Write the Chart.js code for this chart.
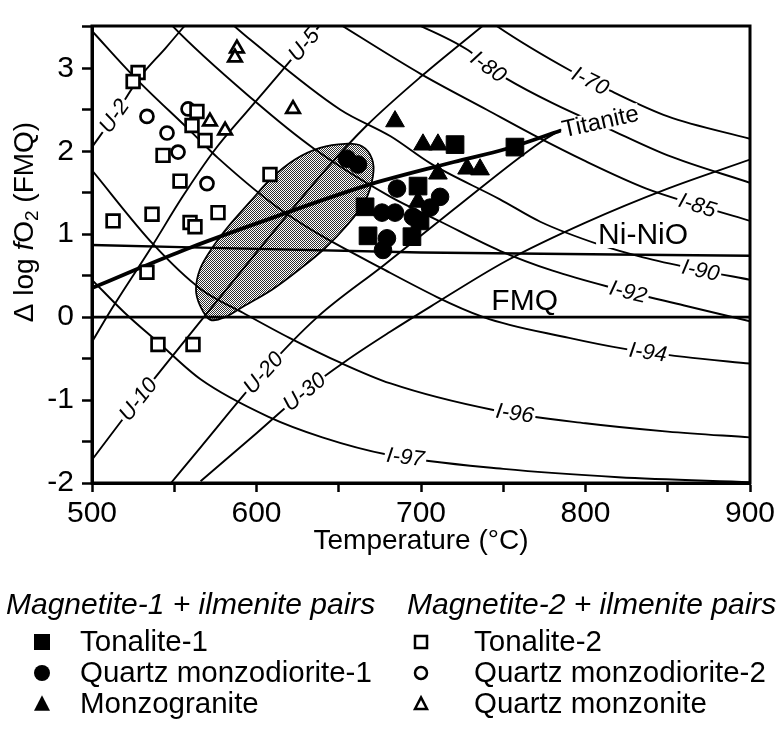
<!DOCTYPE html>
<html>
<head>
<meta charset="utf-8">
<script src="https://cdn.jsdelivr.net/npm/chart.js@4.4.0/dist/chart.umd.min.js"></script>
<style>
  html, body { margin: 0; padding: 0; background: #fff; }
  #wrap { width: 780px; height: 733px; }
</style>
</head>
<body>
<div id="wrap"><canvas id="fig"></canvas></div>
<script>
// temperature (°C) vs delta log fO2 relative to FMQ
var tempRange = [500, 900];
var dlogRange = [-2, 3.51];

// sample pairs: [T, dlogfO2]
var tonalite1 = [[720.7,2.08],[757.1,2.05],[698.2,1.58],[666,1.33],[667.8,0.98],[694.5,0.97],[699.4,1.16]];
var qmd1 = [[655,1.91],[661.7,1.84],[685.4,1.55],[711.6,1.45],[676.3,1.26],[684.2,1.26],[705.5,1.32],[695.1,1.21],[679.3,0.95],[676.9,0.81]];
var monzogranite = [[684.2,2.36],[701.2,2.08],[710.3,2.08],[710.3,1.73],[728,1.79],[735.9,1.78],[698.2,1.39]];
var tonalite2 = [[528,2.95],[525,2.84],[563.8,2.48],[560.8,2.31],[568.7,2.13],[543.2,1.95],[553.5,1.64],[536.5,1.24],[512.8,1.16],[559.6,1.14],[562.6,1.09],[576.6,1.26],[608.2,1.72],[533.4,0.54],[540.1,-0.33],[561.4,-0.33]];
var qmd2 = [[533.4,2.42],[545.6,2.22],[552.3,1.99],[558.4,2.51],[569.9,1.61]];
var qzMonzonite = [[588.1,3.24],[586.9,3.13],[622.2,2.51],[571.7,2.36],[580.9,2.25]];

var seriesNames = ['Tonalite-1', 'Quartz monzodiorite-1', 'Monzogranite', 'Tonalite-2', 'Quartz monzodiorite-2', 'Quartz monzonite'];
var pairGroups = ['Magnetite-1 + ilmenite pairs', 'Magnetite-2 + ilmenite pairs'];

// ulvospinel isopleths
var u2 = [[500,2.05],[515,2.47],[529,2.89],[545,3.25],[560,3.6]];
var u5 = [[500,-0.3],[512,0.1],[536,0.84],[555,1.45],[574,2.0],[596,2.52],[615,2.96],[642,3.6]];
var u10 = [[500,-1.72],[528,-0.99],[568,0],[605,0.9],[643,1.8],[667,2.31],[700,2.9],[743,3.6]];
var u20 = [[548,-2.0],[566,-1.57],[604,-0.67],[637,0],[677,0.62],[720,1.3],[772,2.1],[786,2.27]];
var u30 = [[566,-1.98],[600,-1.4],[629,-0.9],[655,-0.52],[681,-0.18],[706,0.13],[752,0.68],[800,1.14],[850,1.55],[900,1.9]];
// ilmenite isopleths
var i70 = [[740,3.6],[746,3.51],[791,2.97],[815,2.73],[850,2.42],[900,2.15]];
var i80 = [[690,3.6],[728.5,3.22],[741,3.02],[752.5,2.87],[780,2.58],[813,2.28],[850,1.95],[900,1.62]];
var i85 = [[645,3.6],[700,2.93],[740,2.5],[768,2.2],[800,1.88],[837,1.55],[868,1.35],[900,1.16]];
var i90 = [[580,3.62],[596.5,3.34],[651,2.5],[681.5,2.18],[706,1.85],[748,1.42],[772.5,1.15],[809,0.87],[835,0.72],[869,0.57],[900,0.45]];
var i92 = [[545,3.6],[548,3.53],[598,2.62],[635,2.03],[681.5,1.45],[712,1.15],[748,0.8],[780,0.56],[815,0.36],[860,0.14],[900,-0.05]];
var i94 = [[500,3.45],[525.5,2.9],[560,2.24],[576.5,1.92],[616.5,1.27],[675,0.6],[738,0],[790,-0.25],[823,-0.38],[860,-0.48],[900,-0.56]];
var i96 = [[500,1.77],[537.6,0.87],[566,0.34],[592,0.05],[620,-0.25],[651,-0.55],[681.5,-0.8],[744,-1.12],[800,-1.28],[850,-1.38],[900,-1.45]];
var i97 = [[500,0.45],[520,0.05],[540,-0.3],[566,-0.75],[607,-1.2],[640,-1.45],[680,-1.66],[750,-1.83],[820,-1.93],[900,-1.99]];
// buffers and titanite reaction
var nno = [[500,0.87],[700,0.78],[900,0.74]];
var fmq = [[500,0],[900,0]];
var titanite = [[500,0.35],[530,0.6],[560,0.84],[610,1.2],[669,1.6],[720,1.87],[752,2.03],[785,2.25]];
// shaded field outline
var field = [[571.7,-0.03],[565.7,0.14],[563.2,0.33],[565.7,0.58],[572.9,0.83],[582.7,1.09],[596,1.39],[609.4,1.68],[623.4,1.9],[638.6,2.04],[653.8,2.09],[664.1,2.06],[670.2,1.91],[670.8,1.7],[666,1.4],[655.6,1.12],[641.6,0.83],[626.4,0.58],[609.4,0.33],[593,0.14],[580.9,0]];

var isoNames = ['U-2','U-5','U-10','U-20','U-30','I-70','I-80','I-85','I-90','I-92','I-94','I-96','I-97'];
var isoLines = [u2, u5, u10, u20, u30, i70, i80, i85, i90, i92, i94, i96, i97];
// where along each isopleth its label sits (T)
var isoLabelAt = [513.4, 628.7, 528, 604, 629, 803, 741, 868, 870, 826, 838, 757, 690.6];

var FONT = "'Liberation Sans', Arial, Helvetica, sans-serif";

function xy(p) { return { x: p[0], y: p[1] }; }

function pointSet(name, pts, style, filled, r) {
  return {
    label: name, data: pts.map(xy), pointStyle: style, pointRadius: r,
    backgroundColor: filled ? '#000' : '#fff', borderColor: '#000',
    borderWidth: filled ? 1 : 2.7, showLine: false, _filled: filled
  };
}
function lineSet(pts, w) {
  return {
    data: pts.map(xy), showLine: true, pointRadius: 0, borderColor: '#000',
    borderWidth: w, fill: false, cubicInterpolationMode: 'monotone'
  };
}

var datasets = [
  pointSet(seriesNames[0], tonalite1, 'rect', true, 12.5),
  pointSet(seriesNames[1], qmd1, 'circle', true, 8.8),
  pointSet(seriesNames[2], monzogranite, 'triangle', true, 10.8),
  pointSet(seriesNames[3], tonalite2, 'rect', false, 9),
  pointSet(seriesNames[4], qmd2, 'circle', false, 6.5),
  pointSet(seriesNames[5], qzMonzonite, 'triangle', false, 7.8)
];
var FIRST_LINE = datasets.length;
isoLines.forEach(function (l) { datasets.push(lineSet(l, 1.9)); });
datasets.push(lineSet(nno, 2.4));
datasets.push(lineSet(fmq, 2.8));
datasets.push(lineSet(titanite, 3.8));

function interp(pts, t) {
  for (var i = 0; i < pts.length - 1; i++) {
    var a = pts[i], b = pts[i + 1];
    if (t >= a[0] && t <= b[0]) return a[1] + (t - a[0]) / (b[0] - a[0]) * (b[1] - a[1]);
  }
  return pts[pts.length - 1][1];
}

function boxText(ctx, x, y, ang, text, font, pad, h) {
  ctx.save();
  ctx.translate(x, y);
  ctx.rotate(ang);
  ctx.font = font;
  var w = ctx.measureText(text).width;
  if (pad !== null) {
    ctx.fillStyle = '#fff';
    ctx.fillRect(-w / 2 - pad, -h / 2, w + 2 * pad, h);
  }
  ctx.fillStyle = '#000';
  ctx.textAlign = 'center';
  ctx.textBaseline = 'middle';
  ctx.fillText(text, 0, 1);
  ctx.restore();
}

function stipple(ctx) {
  var c = document.createElement('canvas');
  c.width = 2; c.height = 2;
  var g = c.getContext('2d');
  g.fillStyle = '#fff'; g.fillRect(0, 0, 2, 2);
  g.fillStyle = '#2e2e2e'; g.fillRect(0, 0, 1, 1); g.fillRect(1, 1, 1, 1);
  return ctx.createPattern(c, 'repeat');
}

function marker(ctx, style, filled, x, y, s) {
  ctx.beginPath();
  if (style === 'rect') ctx.rect(x - s / 2, y - s / 2, s, s);
  else if (style === 'circle') ctx.arc(x, y, s / 2, 0, Math.PI * 2);
  else { ctx.moveTo(x, y - s * 0.55); ctx.lineTo(x + s / 2, y + s * 0.42); ctx.lineTo(x - s / 2, y + s * 0.42); ctx.closePath(); }
  if (filled) { ctx.fillStyle = '#000'; ctx.fill(); }
  else { ctx.fillStyle = '#fff'; ctx.fill(); ctx.lineWidth = 2.5; ctx.strokeStyle = '#000'; ctx.stroke(); }
}

var figurePlugin = {
  id: 'figure',
  beforeDatasetsDraw: function (chart) {
    var ctx = chart.ctx, xs = chart.scales.x, ys = chart.scales.y;
    var p = field.map(function (q) { return [xs.getPixelForValue(q[0]), ys.getPixelForValue(q[1])]; });
    var n = p.length;
    ctx.save();
    ctx.beginPath();
    ctx.moveTo(p[0][0], p[0][1]);
    for (var i = 0; i < n; i++) {
      var p0 = p[(i - 1 + n) % n], p1 = p[i], p2 = p[(i + 1) % n], p3 = p[(i + 2) % n];
      ctx.bezierCurveTo(p1[0] + (p2[0] - p0[0]) / 6, p1[1] + (p2[1] - p0[1]) / 6,
                        p2[0] - (p3[0] - p1[0]) / 6, p2[1] - (p3[1] - p1[1]) / 6, p2[0], p2[1]);
    }
    ctx.closePath();
    ctx.fillStyle = stipple(ctx);
    ctx.fill();
    ctx.lineWidth = 1.8;
    ctx.strokeStyle = '#000';
    ctx.stroke();
    ctx.restore();
  },
  afterDatasetDraw: function (chart, args) {
    if (args.index !== FIRST_LINE) return;
    var ctx = chart.ctx, xs = chart.scales.x, ys = chart.scales.y;
    ctx.save();
    ctx.beginPath();
    ctx.rect(chart.chartArea.left, chart.chartArea.top, chart.chartArea.right - chart.chartArea.left, chart.chartArea.bottom - chart.chartArea.top);
    ctx.clip();
    isoLines.forEach(function (l, k) {
      var t = isoLabelAt[k];
      var x0 = xs.getPixelForValue(t - 4), y0 = ys.getPixelForValue(interp(l, t - 4));
      var x1 = xs.getPixelForValue(t + 4), y1 = ys.getPixelForValue(interp(l, t + 4));
      var ang = Math.atan2(y1 - y0, x1 - x0);
      boxText(ctx, xs.getPixelForValue(t), ys.getPixelForValue(interp(l, t)), ang, isoNames[k], 'italic 22px ' + FONT, 2, 18);
    });
    boxText(ctx, xs.getPixelForValue(809), ys.getPixelForValue(2.36), -0.22, 'Titanite', '24px ' + FONT, 1, 20);
    boxText(ctx, xs.getPixelForValue(835), ys.getPixelForValue(0.99), 0, 'Ni-NiO', '30px ' + FONT, 2, 26);
    boxText(ctx, xs.getPixelForValue(763), ys.getPixelForValue(0.2), 0, 'FMQ', '30px ' + FONT, null, 0);
    ctx.restore();
  },
  afterDraw: function (chart) {
    var ctx = chart.ctx, a = chart.chartArea;
    ctx.save();
    ctx.lineWidth = 3;
    ctx.strokeStyle = '#000';
    ctx.strokeRect(a.left, a.top, a.right - a.left, a.bottom - a.top);

    // y title: Δ log fO2 (FMQ)
    var parts = [['Δ log ', '28px '], ['f', 'italic 28px '], ['O', '28px '], ['2', '19px '], [' (FMQ)', '28px ']];
    var total = 0;
    parts.forEach(function (q) { ctx.font = q[1] + FONT; q.w = ctx.measureText(q[0]).width; total += q.w; });
    ctx.translate(25, 222);
    ctx.rotate(-Math.PI / 2);
    ctx.fillStyle = '#000';
    ctx.textBaseline = 'middle';
    ctx.textAlign = 'left';
    var cx = -total / 2;
    parts.forEach(function (q) {
      ctx.font = q[1] + FONT;
      ctx.fillText(q[0], cx, q[0] === '2' ? 8 : 0);
      cx += q.w;
    });
    ctx.restore();

    // legend
    ctx.save();
    ctx.fillStyle = '#000';
    ctx.textBaseline = 'middle';
    ctx.textAlign = 'left';
    var cols = [{ head: 6, mark: 42, text: 80 }, { head: 407, mark: 421, text: 474 }];
    var rows = [642, 673, 704];
    pairGroups.forEach(function (g, c) {
      ctx.font = 'italic 30px ' + FONT;
      ctx.fillStyle = '#000';
      ctx.fillText(g, cols[c].head, 606);
      for (var r = 0; r < 3; r++) {
        var ds = chart.data.datasets[c * 3 + r];
        marker(ctx, ds.pointStyle, ds._filled, cols[c].mark, rows[r], ds._filled ? 16 : 12);
        ctx.font = '29.5px ' + FONT;
        ctx.fillStyle = '#000';
        ctx.fillText(ds.label, cols[c].text, rows[r] + 1);
      }
    });
    ctx.restore();
  }
};

new Chart(document.getElementById('fig'), {
  type: 'scatter',
  data: { datasets: datasets },
  options: {
    responsive: true,
    maintainAspectRatio: false,
    animation: false,
    events: [],
    layout: { padding: { left: 0, right: 30, top: 7, bottom: 175 } },
    plugins: { legend: { display: false }, tooltip: { enabled: false } },
    scales: {
      x: {
        type: 'linear', min: tempRange[0], max: tempRange[1],
        border: { color: '#000', width: 3 },
        grid: { drawOnChartArea: false, drawTicks: true, tickLength: 9, tickColor: '#000', tickWidth: 2.5 },
        ticks: {
          stepSize: 50, autoSkip: false, maxRotation: 0, color: '#000', padding: 4,
          font: { family: FONT, size: 30 },
          callback: function (v) { return v % 100 === 0 ? v : ''; }
        },
        title: { display: true, text: 'Temperature (°C)', color: '#000', font: { family: FONT, size: 28 }, padding: { top: 0, bottom: 0 } },
        afterFit: function (s) { s.height = 75; }
      },
      y: {
        type: 'linear', min: dlogRange[0], max: dlogRange[1],
        border: { color: '#000', width: 3 },
        grid: { drawOnChartArea: false, drawTicks: true, tickLength: 10, tickColor: '#000', tickWidth: 2.5 },
        ticks: {
          stepSize: 0.5, includeBounds: false, autoSkip: false, color: '#000', padding: 8,
          font: { family: FONT, size: 30 },
          callback: function (v) { return Number.isInteger(v) ? v : ''; }
        },
        afterFit: function (s) { s.width = 92; }
      }
    }
  },
  plugins: [figurePlugin]
});
</script>
</body>
</html>
